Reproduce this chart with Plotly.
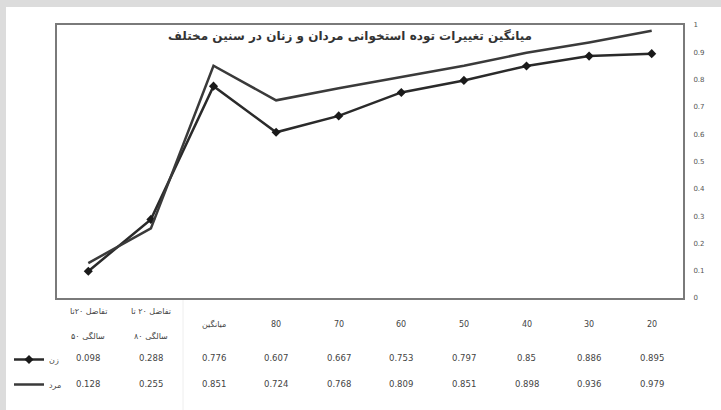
import plotly.graph_objects as go

categories = ["تفاضل ۲۰تا<br>۵۰ سالگی", "تفاضل ۲۰ تا<br>۸۰ سالگی", "میانگین",
              "80", "70", "60", "50", "40", "30", "20"]
women = [0.098, 0.288, 0.776, 0.607, 0.667, 0.753, 0.797, 0.85, 0.886, 0.895]
men = [0.128, 0.255, 0.851, 0.724, 0.768, 0.809, 0.851, 0.898, 0.936, 0.979]
women_label = "زن"
men_label = "مرد"
title_text = "میانگین تغییرات توده استخوانی مردان و زنان در سنین مختلف"
y_ticks = [0, 0.1, 0.2, 0.3, 0.4, 0.5, 0.6, 0.7, 0.8, 0.9, 1]

W, H = 721, 410
L, R, T, B = 57, 38, 25, 112
pw = W - L - R
ph = H - T - B

def py(p):
    return (H - B - p) / ph

def px(p):
    return (p - L) / pw

FONT = "DejaVu Sans"
TXT = dict(family=FONT, size=8, color="#444")

fig = go.Figure()
fig.add_trace(go.Scatter(x=categories, y=women, name=women_label, mode="lines+markers",
                         line=dict(color="#2a2a2a", width=2.5),
                         marker=dict(symbol="diamond", size=7, color="#1a1a1a"),
                         legendgroup="a"))
fig.add_trace(go.Scatter(x=categories, y=men, name=men_label, mode="lines",
                         line=dict(color="#3a3a3a", width=2.5),
                         legendgroup="b"))

def note(text, x, y, xref="x", font=TXT):
    return dict(text=text, x=x, xref=xref, y=y, yref="paper", showarrow=False,
                xanchor="center", yanchor="middle", font=font)

ann = [note("<b>" + title_text + "</b>", px(350), py(37), xref="paper",
            font=dict(family=FONT, size=12, color="#333"))]
for i, c in enumerate(categories):
    parts = c.split("<br>")
    if len(parts) == 2:
        ann.append(note(parts[0], i, py(311)))
        ann.append(note(parts[1], i, py(336)))
    else:
        ann.append(note(c, i, py(324)))
    ann.append(note(str(women[i]), i, py(358), font=dict(family=FONT, size=8.5, color="#444")))
    ann.append(note(str(men[i]), i, py(384), font=dict(family=FONT, size=8.5, color="#444")))

shapes = [
    dict(type="rect", xref="paper", yref="paper", x0=px(0), x1=px(W), y0=py(0), y1=py(7),
         fillcolor="#dcdcdc", line=dict(width=0), layer="below"),
    dict(type="rect", xref="paper", yref="paper", x0=px(0), x1=px(6), y0=py(0), y1=py(H),
         fillcolor="#dcdcdc", line=dict(width=0), layer="below"),
    dict(type="line", xref="paper", yref="paper", x0=px(183), x1=px(183), y0=py(300), y1=py(H),
         line=dict(color="#eeeeee", width=1)),
]

fig.update_layout(
    width=W, height=H,
    margin=dict(l=L, r=R, t=T, b=B, pad=0, autoexpand=False),
    paper_bgcolor="white", plot_bgcolor="white",
    showlegend=True,
    legend=dict(x=px(9), y=py(345), xanchor="left", yanchor="top",
                font=dict(family=FONT, size=8, color="#444"),
                tracegroupgap=6, itemwidth=30, bgcolor="rgba(0,0,0,0)"),
    annotations=ann, shapes=shapes,
    xaxis=dict(type="category", showticklabels=False, showgrid=False, zeroline=False,
               showline=True, mirror=True, linecolor="#7a7a7a", linewidth=2,
               ticks="", range=[-0.5, len(categories) - 0.5]),
    yaxis=dict(side="right", range=[0, 1], tickvals=y_ticks, showgrid=False, zeroline=False,
               showline=True, mirror=True, linecolor="#7a7a7a", linewidth=2,
               ticks="", ticklabelstandoff=7,
               tickfont=dict(family=FONT, size=7, color="#555")),
)

fig.write_html("out.html", post_script="document.body.style.margin='0';",
               config={"displayModeBar": False})
